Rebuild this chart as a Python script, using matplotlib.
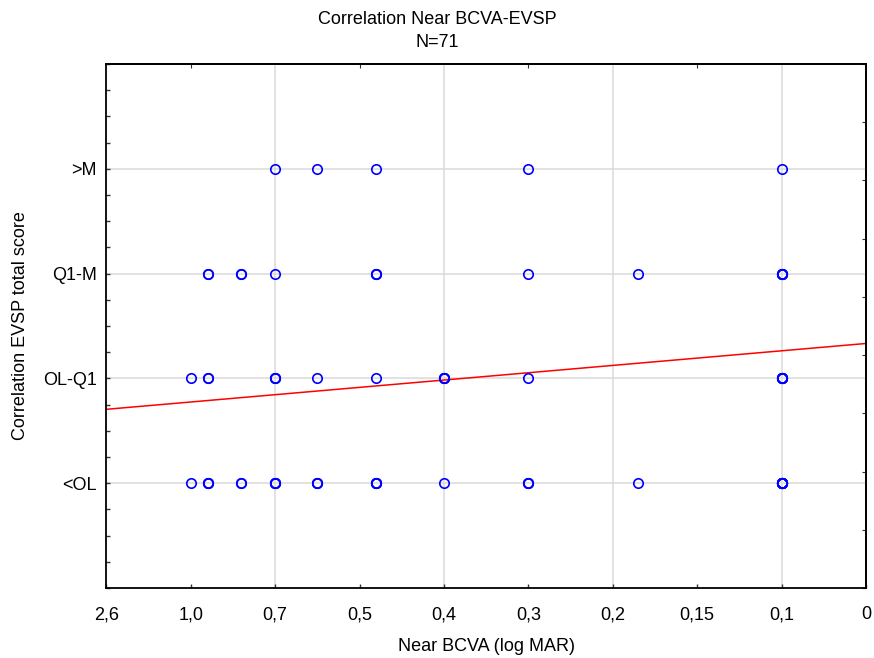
import numpy as np
import matplotlib
matplotlib.use("Agg")
import matplotlib.pyplot as plt
from matplotlib.ticker import MultipleLocator

plt.rcParams["font.family"] = ["Liberation Sans", "DejaVu Sans"]

# eje x: posiciones de la escala (categorias igualmente espaciadas)
x_labels = ["2,6", "1,0", "0,7", "0,5", "0,4", "0,3", "0,2", "0,15", "0,1", "0"]
y_labels = ["<OL", "OL-Q1", "Q1-M", ">M"]

# puntos por categoria: posicion en x y cantidad de casos superpuestos
gt_m_x = [2.0, 2.5, 3.2, 5.0, 8.0]
gt_m_n = [1, 1, 1, 1, 1]
q1_m_x = [1.2, 1.6, 2.0, 3.2, 5.0, 6.3, 8.0]
q1_m_n = [2, 2, 1, 3, 1, 1, 5]
ol_q1_x = [1.0, 1.2, 2.0, 2.5, 3.2, 4.0, 5.0, 8.0]
ol_q1_n = [1, 2, 3, 1, 1, 4, 1, 6]
lt_ol_x = [1.0, 1.2, 1.6, 2.0, 2.5, 3.2, 4.0, 5.0, 6.3, 8.0]
lt_ol_n = [1, 3, 2, 4, 3, 4, 1, 3, 1, 10]

# recta de regresion (intercepto, pendiente)
fit_intercept = 1.705
fit_slope = 0.0698

rows = [(lt_ol_x, lt_ol_n, 1), (ol_q1_x, ol_q1_n, 2),
        (q1_m_x, q1_m_n, 3), (gt_m_x, gt_m_n, 4)]
xs, ys = [], []
for px, pn, level in rows:
    for x, n in zip(px, pn):
        xs += [x] * n
        ys += [level] * n

fig = plt.figure(figsize=(8.74, 6.58), dpi=100)
ax = fig.add_axes([0.1216, 0.1064, 0.8692, 0.7963])

ax.set_xlim(0, 9)
ax.set_ylim(0, 5)

ax.set_xticks(range(len(x_labels)))
ax.set_xticklabels(x_labels)
ax.set_yticks(range(1, len(y_labels) + 1))
ax.set_yticklabels(y_labels)
ax.yaxis.set_minor_locator(MultipleLocator(0.25))

ax.tick_params(axis="both", which="major", direction="in", length=3,
               width=1, labelsize=13, color="#333333")
ax.tick_params(axis="x", which="major", pad=13)
ax.tick_params(axis="y", which="major", pad=7)
ax.tick_params(axis="y", which="minor", direction="in", length=3, width=1,
               color="#333333")

# rejilla: horizontal en cada categoria, vertical cada dos marcas
ax.grid(axis="y", which="major", color="#dadada", lw=1.1)
for gx in ax.get_xticks()[2:-1:2]:
    ax.axvline(gx, color="#dadada", lw=1.1, zorder=0)
ax.set_axisbelow(True)

top = ax.secondary_xaxis("top")
top.set_xticks(ax.get_xticks()[1:-1:2])
top.tick_params(direction="in", length=3, labeltop=False, color="#333333")
right = ax.secondary_yaxis("right")
right.set_yticks(np.linspace(0, 5, 10))
right.tick_params(direction="in", length=3, labelright=False, color="#333333")

for sp in list(ax.spines.values()) + [top.spines["top"], right.spines["right"]]:
    sp.set_linewidth(1.3)
    sp.set_color("black")

ax.plot(xs, ys, "o", ms=6.8, mfc="none", mec="#0000ff", mew=1.2, zorder=3)

xl = np.array(ax.get_xlim())
ax.plot(xl, fit_intercept + fit_slope * xl, color="#ff0000", lw=1.1, zorder=2)

ax.set_xlabel("Near BCVA (log MAR)", fontsize=13, labelpad=11)
ax.set_ylabel("Correlation EVSP total score", fontsize=13, labelpad=10)
fig.suptitle("Correlation Near BCVA-EVSP\nN=71", fontsize=13, y=0.984,
             linespacing=1.5)

fig.savefig("out.png", dpi=100)
